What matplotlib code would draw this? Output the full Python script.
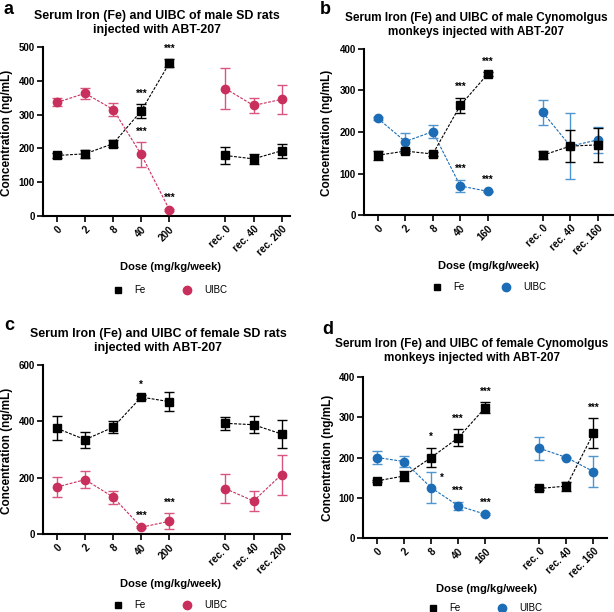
import matplotlib
matplotlib.use("Agg")
import matplotlib.pyplot as plt
from matplotlib.lines import Line2D
import numpy as np

plt.rcParams['font.family'] = ['Liberation Sans', 'DejaVu Sans']

W, H = 614, 612

# ---------------- data ----------------
pos = [0, 1, 2, 3, 4, 6, 7, 8]
rat_labels = ["0", "2", "8", "40", "200", "rec. 0", "rec. 40", "rec. 200"]
monkey_labels = ["0", "2", "8", "40", "160", "rec. 0", "rec. 40", "rec. 160"]

a_fe = [179, 184, 214, 311, 452, 179, 169, 193]
a_fe_err = [6, 11, 11, 20, 12, 26, 15, 20]
a_uibc = [336, 363, 315, 182, 19, 377, 327, 345]
a_uibc_err = [12, 16, 20, 37, 3, 60, 22, 44]

b_fe = [144, 154, 147, 264, 340, 144, 166, 169]
b_fe_err = [11, 4, 4, 19, 4, 10, 38, 41]
b_uibc = [233, 177, 201, 70, 57, 247, 166, 181]
b_uibc_err = [3, 21, 16, 15, 2, 31, 80, 32]

c_fe = [375, 335, 379, 486, 470, 393, 388, 355]
c_fe_err = [43, 28, 22, 6, 34, 22, 30, 48]
c_uibc = [167, 193, 131, 24, 45, 161, 117, 211]
c_uibc_err = [34, 29, 23, 3, 29, 51, 37, 71]

d_fe = [142, 154, 200, 249, 324, 123, 129, 260]
d_fe_err = [3, 12, 24, 21, 14, 3, 11, 37]
d_uibc = [200, 190, 125, 80, 59, 223, 200, 165]
d_uibc_err = [17, 14, 39, 10, 2, 28, 1, 39]

# significance marks: (series, index, text)
a_sig = [("fe", 3, "***"), ("fe", 4, "***"), ("uibc", 3, "***"), ("uibc", 4, "***")]
b_sig = [("fe", 3, "***"), ("fe", 4, "***"), ("uibc", 3, "***"), ("uibc", 4, "***")]
c_sig = [("fe", 3, "*"), ("uibc", 3, "***"), ("uibc", 4, "***")]
d_sig = [("fe", 2, "*"), ("fe", 3, "***"), ("fe", 4, "***"), ("fe", 7, "***"),
         ("uibc", 2, "*r"), ("uibc", 3, "***"), ("uibc", 4, "***")]

titles = {
    "a": "Serum Iron (Fe) and UIBC of male SD rats\ninjected with ABT-207",
    "b": "Serum Iron (Fe) and UIBC of male Cynomolgus\nmonkeys injected with ABT-207",
    "c": "Serum Iron (Fe) and UIBC of female SD rats\ninjected with ABT-207",
    "d": "Serum Iron (Fe) and UIBC of female Cynomolgus\nmonkeys injected with ABT-207",
}

RAT = "#c92f5d"
RAT_ERR = "#d9557d"
MON = "#1c6db5"
MON_ERR = "#4f95cf"

fig = plt.figure(figsize=(W / 100, H / 100), dpi=100)


def fx(x):
    return x / W


def fy(y):
    return 1 - y / H


def make_axes(left, top, right, bottom):
    return fig.add_axes([fx(left), fy(bottom), fx(right) - fx(left), (bottom - top) / H])


panels = [
    ("a", (43, 47, 290, 216), (-0.5, 8.3), 500, [0, 100, 200, 300, 400, 500], rat_labels,
     a_fe, a_fe_err, a_uibc, a_uibc_err, RAT, RAT_ERR, a_sig),
    ("b", (364, 49, 613, 215), (-0.5, 8.55), 400, [0, 100, 200, 300, 400], monkey_labels,
     b_fe, b_fe_err, b_uibc, b_uibc_err, MON, MON_ERR, b_sig),
    ("c", (43, 365, 290, 534), (-0.5, 8.3), 600, [0, 200, 400, 600], rat_labels,
     c_fe, c_fe_err, c_uibc, c_uibc_err, RAT, RAT_ERR, c_sig),
    ("d", (363, 377, 607, 538), (-0.52, 8.5), 400, [0, 100, 200, 300, 400], monkey_labels,
     d_fe, d_fe_err, d_uibc, d_uibc_err, MON, MON_ERR, d_sig),
]

title_pos = {"a": (157, 23), "b": (476, 25), "c": (158, 341), "d": (472, 351)}
title_size = {"a": 8.9, "b": 8.5, "c": 8.9, "d": 8.5}
letter_pos = {"a": (9, 9), "b": (325, 10), "c": (9, 326), "d": (328, 329)}
ylab_pos = {"a": (7, 133), "b": (327, 133), "c": (7, 451), "d": (328, 458)}
xlab_pos = {"a": (170, 267), "b": (489, 266), "c": (171, 584), "d": (487, 589)}
leg_pos = {"a": (170, 290), "b": (489, 287), "c": (170, 605), "d": (485, 608)}

dash = (0, (2.6, 1.3))

for key, box, xlim, ymax, yticks, labels, fe, fe_err, ui, ui_err, col, ecol, sig in panels:
    ax = make_axes(*box)
    groups = [slice(0, 5), slice(5, 8)]
    for g in groups:
        p = pos[g]
        ax.plot(p, ui[g], color=col, lw=0.8, ls=dash, zorder=2)
        ax.plot(p, fe[g], color="black", lw=0.8, ls=dash, zorder=3)
    ax.errorbar(pos, ui, yerr=ui_err, fmt="o", color=col, ecolor=ecol, ms=6,
                capsize=3.5, elinewidth=1.0, capthick=1.0, zorder=4)
    ax.errorbar(pos, fe, yerr=fe_err, fmt="s", color="black", ecolor="black", ms=5.5,
                capsize=3.5, elinewidth=1.0, capthick=1.0, zorder=5)
    for s, i, t in sig:
        vals, errs = (fe, fe_err) if s == "fe" else (ui, ui_err)
        if t.endswith("r"):
            ax.annotate(t[:-1], (pos[i], vals[i] + errs[i]), xytext=(8, -4),
                        textcoords="offset points", ha="center", va="center",
                        fontsize=7, fontweight="bold")
        else:
            ax.annotate(t, (pos[i], vals[i] + errs[i]), xytext=(0, 4),
                        textcoords="offset points", ha="center", va="bottom",
                        fontsize=7, fontweight="bold")
    ax.set_xlim(*xlim)
    ax.set_ylim(0, ymax)
    ax.set_yticks(yticks)
    ax.set_xticks(pos)
    ax.set_xticklabels(labels, rotation=45, ha="right", va="top", rotation_mode="anchor")
    for sp in ["top", "right"]:
        ax.spines[sp].set_visible(False)
    for sp in ["left", "bottom"]:
        ax.spines[sp].set_linewidth(1.5)
    ax.tick_params(axis="both", direction="out", length=4, width=1.2, pad=2)
    ax.tick_params(axis="y", labelsize=7)
    ax.tick_params(axis="x", labelsize=7.2)
    for lab in ax.get_xticklabels() + ax.get_yticklabels():
        lab.set_fontweight("bold")
    ax.patch.set_alpha(0)

    tx, ty = title_pos[key]
    fig.text(fx(tx), fy(ty), titles[key], ha="center", va="center", fontsize=title_size[key],
             fontweight="bold", linespacing=1.25)
    lx, ly = letter_pos[key]
    fig.text(fx(lx), fy(ly), key, ha="center", va="center", fontsize=13, fontweight="bold")
    yx, yy = ylab_pos[key]
    fig.text(fx(yx), fy(yy), "Concentration (ng/mL)", ha="center", va="center",
             rotation=90, fontsize=8.5, fontweight="bold")
    xx, xy = xlab_pos[key]
    fig.text(fx(xx), fy(xy), "Dose (mg/kg/week)", ha="center", va="center",
             fontsize=8, fontweight="bold")
    handles = [Line2D([], [], marker="s", color="black", ls="none", ms=5),
               Line2D([], [], marker="o", color=col, ls="none", ms=6)]
    gx, gy = leg_pos[key]
    fig.legend(handles, ["Fe", "UIBC"], loc="center", bbox_to_anchor=(fx(gx), fy(gy)),
               ncol=2, frameon=False, fontsize=7, handletextpad=1.2, columnspacing=3.8,
               handlelength=1.0)

fig.savefig("out.png", dpi=100)
